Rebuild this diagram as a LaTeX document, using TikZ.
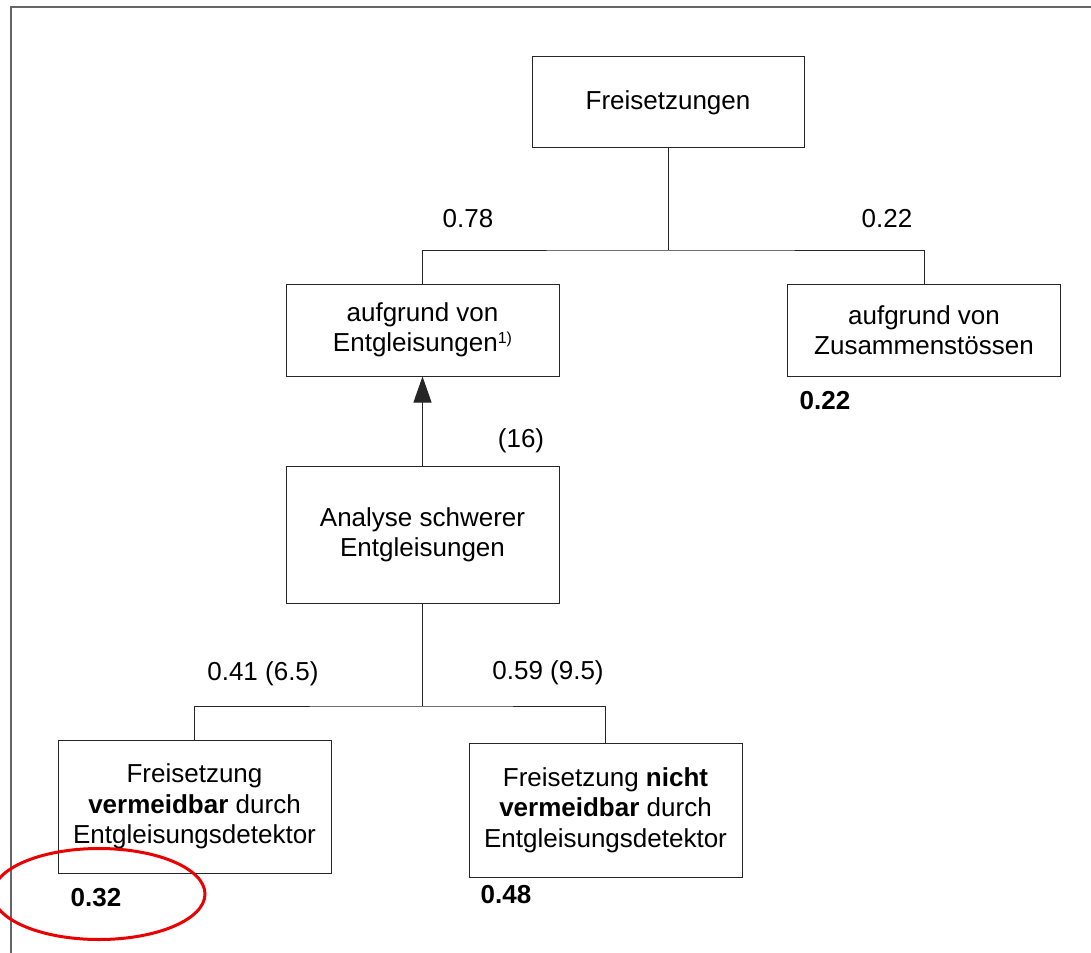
\documentclass[tikz,border=0pt]{standalone}
\usepackage{fontspec}
\setmainfont{Liberation Sans}
\usetikzlibrary{arrows.meta}
\begin{document}
\begin{tikzpicture}[x=1pt,y=-1pt,
  txt/.style={font=\fontsize{26}{30.5}\selectfont},
  box/.style={txt, draw=black!85, line width=1pt, minimum width=273pt, align=center, inner sep=0pt},
  lab/.style={txt, inner sep=0pt},
  blab/.style={lab, font=\fontsize{26}{30.5}\selectfont\bfseries},
  conn/.style={draw=black!85, line width=1pt}]
\useasboundingbox (0,0) rectangle (1091,952);
\clip (0,0) rectangle (1091,952);
% frame
\draw[black!60, line width=1.5pt] (11,1000) -- (11,7) -- (1100,7);
% boxes
\node[box, minimum width=272pt, minimum height=91pt] (top) at (668,102.5) {Freisetzungen};
\node[box, minimum height=92pt] (ent) at (422.5,330) {aufgrund von\\Entgleisungen\raisebox{8pt}{\fontsize{16}{16}\selectfont 1)}};
\node[box, minimum height=92pt] (zus) at (924,330) {aufgrund von\\Zusammenst\"ossen};
\node[box, minimum height=137pt] (ana) at (422.5,535) {Analyse schwerer\\Entgleisungen};
\node[box, minimum height=133pt] (verm) at (194.5,806.5) {Freisetzung\\\textbf{vermeidbar} durch\\Entgleisungsdetektor};
\node[box, minimum height=134pt] (nverm) at (605.5,810) {Freisetzung \textbf{nicht}\\\textbf{vermeidbar} durch\\Entgleisungsdetektor};
% labels
\node[lab] (l078) at (468,219) {0.78};
\node[lab] (l022) at (887,219) {0.22};
\node[blab] (b022) at (825,401) {0.22};
\node[lab] (l16) at (521,441) {(16)};
\node[lab] (l041) at (263,674) {0.41 (6.5)};
\node[lab] (l059) at (548,673) {0.59 (9.5)};
\node[blab] (b032) at (96,898) {0.32};
\node[blab] (b048) at (506,895) {0.48};
% connectors
\coordinate (j1) at (668,250);
\draw[conn] (top.south) -- (j1);
\draw[conn] (ent.north) |- (j1) -| (zus.north);
\draw[conn, -{Triangle[length=26pt,width=18pt]}] (ana.north) -- (ent.south);
\coordinate (j2) at (422.5,706);
\draw[conn] (ana.south) -- (j2);
\draw[conn] (verm.north) |- (j2) -| (nverm.north);
% red ellipse
\draw[red!92!black, line width=3pt] (99,894) ellipse [x radius=106, y radius=45.5];
\end{tikzpicture}
\end{document}
